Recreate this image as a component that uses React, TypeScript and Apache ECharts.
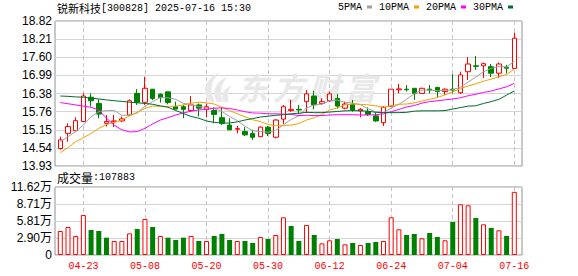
import React, { useEffect, useRef } from "react";
import * as echarts from "echarts";

const stockName = "锐新科技";
const stockInfo = "[300828] 2025-07-16 15:30";
const volumeLabel = "成交量";

const dates = [
  "04-18","04-21","04-22","04-23","04-24","04-25","04-28","04-29","04-30",
  "05-06","05-07","05-08","05-09","05-12","05-13","05-14","05-15","05-16","05-19","05-20",
  "05-21","05-22","05-23","05-26","05-27","05-28","05-29","05-30",
  "06-03","06-04","06-05","06-06","06-09","06-10","06-11","06-12","06-13","06-16","06-17",
  "06-18","06-19","06-20","06-23","06-24","06-25","06-26","06-27","06-30",
  "07-01","07-02","07-03","07-04","07-07","07-08","07-09","07-10","07-11","07-14","07-15","07-16",
];

const opens = [
  14.52,15.03,15.12,15.43,16.25,16.04,15.37,15.42,15.45,15.65,
  16.38,16.08,16.52,16.35,16.43,15.93,15.93,15.80,15.99,15.84,
  15.80,15.56,15.31,15.17,15.09,15.03,14.92,15.24,14.90,15.51,
  15.80,15.84,16.10,16.29,16.04,16.13,16.21,15.88,16.01,15.79,
  15.76,15.62,15.39,15.95,16.50,16.52,16.55,16.38,16.52,16.58,
  16.44,16.52,16.40,17.11,17.31,17.31,17.28,17.06,17.26,17.22,
];
const closes = [
  14.81,15.26,15.46,16.29,16.13,15.68,15.43,15.45,15.52,16.13,
  16.08,16.55,16.21,16.24,16.07,15.85,15.84,15.99,15.88,15.93,
  15.67,15.37,15.15,15.19,14.98,14.90,15.24,15.03,15.48,15.93,
  15.84,15.82,16.36,15.99,16.10,16.36,15.95,16.02,15.82,15.84,
  15.67,15.45,15.91,16.52,16.53,16.50,16.38,16.55,16.49,16.44,
  16.52,16.49,17.00,17.37,17.29,17.38,17.06,17.37,17.23,18.24,
];
const lows = [
  14.48,14.75,15.12,15.42,15.93,15.54,15.26,15.24,15.41,15.63,
  15.99,15.99,16.15,16.07,16.01,15.84,15.54,15.76,15.60,15.57,
  15.37,15.31,15.14,15.03,14.94,14.81,14.90,14.94,14.86,15.35,
  15.76,15.68,15.71,15.84,15.99,16.10,15.87,15.84,15.76,15.57,
  15.62,15.42,15.28,15.93,16.38,16.44,16.16,16.36,16.38,16.25,
  16.33,16.38,16.36,16.83,17.17,16.89,16.93,16.90,17.05,17.22,
];
const highs = [
  14.92,15.37,15.57,16.38,16.38,16.18,15.65,15.65,15.60,16.18,
  16.52,16.94,16.52,16.38,16.43,16.10,15.99,16.29,16.04,16.04,
  15.91,15.91,15.54,15.28,15.24,15.15,15.26,15.28,15.51,15.99,
  16.16,15.99,16.49,16.47,16.21,16.44,16.36,16.10,16.16,15.88,
  15.91,15.73,15.95,16.52,16.70,16.66,16.55,16.57,16.66,16.60,
  16.55,17.03,17.11,17.60,17.64,17.42,17.37,17.42,17.34,18.43,
];

const volumes = [
  41000,47800,32500,68400,42700,41000,29600,23900,23900,37000,
  44400,61500,47800,32500,29600,25600,29600,32500,23900,23900,
  32500,35900,25600,23900,23900,20500,30800,27300,34200,64400,
  49600,23900,51300,34200,19900,25100,27300,18200,20500,17100,
  20500,22200,23900,64400,43900,34200,35900,28500,37600,30800,
  25100,56400,86600,84900,63200,52400,46100,42200,32500,107883,
];

const ma5 = [
  14.75,14.92,15.09,15.31,15.59,15.76,15.80,15.80,15.64,15.64,
  15.72,15.95,16.10,16.24,16.23,16.18,16.04,16.00,15.93,15.90,
  15.86,15.77,15.60,15.46,15.27,15.12,15.09,15.07,15.13,15.32,
  15.50,15.62,15.89,15.99,16.02,16.13,16.15,16.08,16.05,16.00,
  15.86,15.76,15.74,15.88,16.01,16.18,16.37,16.49,16.49,16.47,
  16.48,16.50,16.59,16.76,16.93,17.11,17.22,17.29,17.27,17.46,
];
const ma10 = [
  14.38,14.55,14.75,14.88,15.03,15.20,15.33,15.40,15.48,15.62,
  15.74,15.87,15.95,15.94,15.94,15.95,15.99,16.05,16.08,16.06,
  16.02,15.91,15.80,15.69,15.59,15.49,15.43,15.33,15.29,15.29,
  15.31,15.36,15.48,15.56,15.67,15.82,15.89,15.99,16.02,16.01,
  15.99,15.96,15.91,15.96,16.01,16.02,16.06,16.12,16.18,16.24,
  16.33,16.43,16.54,16.63,16.70,16.79,16.86,16.94,17.02,17.20,
];
const ma20 = [
  16.07,16.03,15.99,15.95,15.91,15.82,15.54,15.31,15.15,15.08,
  15.09,15.20,15.35,15.48,15.56,15.65,15.72,15.78,15.82,15.84,
  15.88,15.89,15.87,15.82,15.76,15.72,15.71,15.69,15.69,15.68,
  15.67,15.63,15.64,15.63,15.63,15.65,15.66,15.66,15.66,15.65,
  15.65,15.66,15.69,15.76,15.84,15.92,15.97,16.05,16.10,16.13,
  16.16,16.19,16.23,16.30,16.35,16.41,16.46,16.53,16.60,16.72,
];
const ma30 = [
  16.29,16.28,16.26,16.25,16.22,16.19,16.16,16.13,16.11,16.08,
  16.06,16.04,16.01,15.96,15.91,15.80,15.70,15.60,15.54,15.45,
  15.40,15.38,15.38,15.42,15.48,15.53,15.58,15.61,15.64,15.66,
  15.69,15.71,15.74,15.73,15.73,15.75,15.77,15.79,15.80,15.79,
  15.78,15.74,15.73,15.73,15.73,15.74,15.78,15.79,15.79,15.79,
  15.80,15.85,15.90,15.95,15.96,16.04,16.10,16.18,16.32,16.46,
];

const maNames = ["5PMA", "10PMA", "20PMA", "30PMA"];
const maColors = ["#a0a0a0", "#f4a000", "#ff00ff", "#006b2e"];

const priceTicks = ["13.93","14.54","15.15","15.76","16.38","16.99","17.60","18.21","18.82"];
const volTicks = ["0","2.90万","5.81万","8.71万","11.62万"];
const priceMin = 13.93;
const priceMax = 18.82;
const volMax = 116200;

const watermarkChars = ["东", "方", "财", "富"];

const UP = "#ff0000";
const DOWN = "#008000";

let logoRegistered = false;
function registerLogo() {
  if (logoRegistered) return;
  const d =
    "M13 30 C3 22 5 8 22 0 C13 8 11 18 17 30 Z M19 30 C13 20 17 10 30 4 C23 12 21 20 25 30 Z M26 30 C22 24 25 17 34 13 C29 19 29 24 31 30 Z";
  echarts.graphic.registerShape("emlogo", echarts.graphic.extendPath(d, {}) as any);
  logoRegistered = true;
}

export default function App() {
  const ref = useRef<HTMLDivElement>(null);

  useEffect(() => {
    if (!ref.current) return;
    registerLogo();
    const chart = echarts.init(ref.current, undefined, { renderer: "svg" });

    const labelInterval = (idx: number) => idx % 8 === 3;
    const dashed = { show: true, interval: labelInterval, lineStyle: { color: "#c4c4c4", type: [4, 3] as any, width: 1 } };
    const gridLine = { show: true, lineStyle: { color: "#d4d4d4", width: 1 } };
    const monoFont = "'Liberation Mono', 'DejaVu Sans Mono', monospace";
    const sansFont = "'Liberation Sans', 'Noto Sans CJK SC', sans-serif";

    const candleData = dates.map((_, i) => [opens[i], closes[i], lows[i], highs[i]]);
    const volData = volumes.map((v, i) => {
      const up = i === 0 ? closes[0] >= opens[0] : closes[i] >= closes[i - 1];
      return {
        value: v,
        itemStyle: up
          ? { color: "#ffffff", borderColor: UP, borderWidth: 1 }
          : { color: DOWN, borderColor: DOWN, borderWidth: 0 },
      };
    });

    const maSeries = [ma5, ma10, ma20, ma30].map((arr, k) => ({
      name: maNames[k],
      type: "line",
      xAxisIndex: 1,
      yAxisIndex: 1,
      data: arr,
      symbol: "none",
      smooth: false,
      z: 4,
      itemStyle: { color: maColors[k] },
      lineStyle: { color: maColors[k], width: 1 },
    }));

    const wmStart = 237;
    const wmGraphics: any[] = watermarkChars.map((ch, i) => ({
      type: "text",
      x: wmStart + i * 36,
      y: 71,
      z: 1,
      silent: true,
      style: {
        text: ch,
        fill: "#e8e8e8",
        fontSize: 31,
        fontWeight: "bold",
        fontStyle: "italic",
        fontFamily: "'Noto Sans CJK SC', sans-serif",
      },
    }));

    chart.setOption({
      animation: false,
      backgroundColor: "#ffffff",
      legend: {
        data: maNames,
        left: 338,
        top: 2,
        padding: 0,
        align: "right",
        icon: "rect",
        itemWidth: 5,
        itemHeight: 3,
        itemGap: 7,
        selectedMode: false,
        textStyle: { fontFamily: monoFont, fontSize: 10, color: "#000" },
      },
      graphic: [
        {
          type: "text",
          x: 57,
          y: 8,
          style: {
            text: `{a|${stockName}}{b|${stockInfo}}`,
            fill: "#000",
            verticalAlign: "middle",
            rich: {
              a: { fontSize: 11, fontFamily: "'Noto Sans CJK SC', sans-serif", fill: "#000" },
              b: { fontSize: 10, fontFamily: monoFont, fill: "#000" },
            },
          },
        },
        {
          type: "text",
          x: 57,
          y: 177,
          style: {
            text: `{a|${volumeLabel}}{b|:${volumes[volumes.length - 1]}}`,
            fill: "#000",
            verticalAlign: "middle",
            rich: {
              a: { fontSize: 12, fontFamily: "'Noto Sans CJK SC', sans-serif", fill: "#000" },
              b: { fontSize: 10, fontFamily: monoFont, fill: "#000" },
            },
          },
        },
        {
          type: "emlogo",
          x: 198,
          y: 72,
          z: 1,
          silent: true,
          style: { fill: "#e8e8e8" },
        },
        ...wmGraphics,
      ],
      grid: [
        { left: 55, top: 21, width: 467, height: 145, show: true, borderColor: "#909090", borderWidth: 1 },
        { left: 60.3, top: 21, width: 454, height: 145 },
        { left: 55, top: 187, width: 467, height: 68, show: true, borderColor: "#909090", borderWidth: 1 },
        { left: 60.3, top: 187, width: 454, height: 68 },
      ],
      xAxis: [
        { gridIndex: 0, type: "value", min: 0, max: 1, show: false },
        {
          gridIndex: 1,
          type: "category",
          data: dates,
          boundaryGap: false,
          axisLine: { show: false },
          axisTick: { show: false },
          axisLabel: { show: false },
          splitLine: dashed,
        },
        { gridIndex: 2, type: "value", min: 0, max: 1, show: false },
        {
          gridIndex: 3,
          type: "category",
          data: dates,
          boundaryGap: false,
          axisLine: { show: false },
          axisTick: { show: false },
          axisLabel: {
            show: true,
            interval: labelInterval,
            color: UP,
            fontFamily: monoFont,
            fontSize: 10,
            margin: 6,
          },
          splitLine: dashed,
        },
      ],
      yAxis: [
        {
          gridIndex: 0,
          type: "value",
          min: 0,
          max: 8,
          interval: 1,
          axisLine: { show: false },
          axisTick: { show: false },
          axisLabel: {
            formatter: (v: number) => priceTicks[Math.round(v)],
            color: "#000",
            fontFamily: sansFont,
            fontSize: 12,
            margin: 3,
          },
          splitLine: gridLine,
        },
        { gridIndex: 1, type: "value", min: priceMin, max: priceMax, show: false },
        {
          gridIndex: 2,
          type: "value",
          min: 0,
          max: 4,
          interval: 1,
          axisLine: { show: false },
          axisTick: { show: false },
          axisLabel: {
            formatter: (v: number) => volTicks[Math.round(v)],
            color: "#000",
            fontFamily: sansFont,
            fontSize: 12,
            margin: 3,
          },
          splitLine: gridLine,
        },
        { gridIndex: 3, type: "value", min: 0, max: volMax, show: false },
      ],
      series: [
        {
          name: "K",
          type: "candlestick",
          xAxisIndex: 1,
          yAxisIndex: 1,
          data: candleData,
          barWidth: 5,
          clip: false,
          z: 3,
          itemStyle: {
            color: "#ffffff",
            color0: DOWN,
            borderColor: UP,
            borderColor0: DOWN,
            borderWidth: 1,
          },
        },
        ...maSeries,
        {
          name: "VOL",
          type: "bar",
          xAxisIndex: 3,
          yAxisIndex: 3,
          data: volData,
          barWidth: 5,
          clip: false,
          z: 3,
        },
      ],
    } as any);

    return () => chart.dispose();
  }, []);

  return (
    <div
      ref={ref}
      style={{ position: "fixed", left: 0, top: 0, width: 578, height: 276, background: "#fff" }}
    />
  );
}
